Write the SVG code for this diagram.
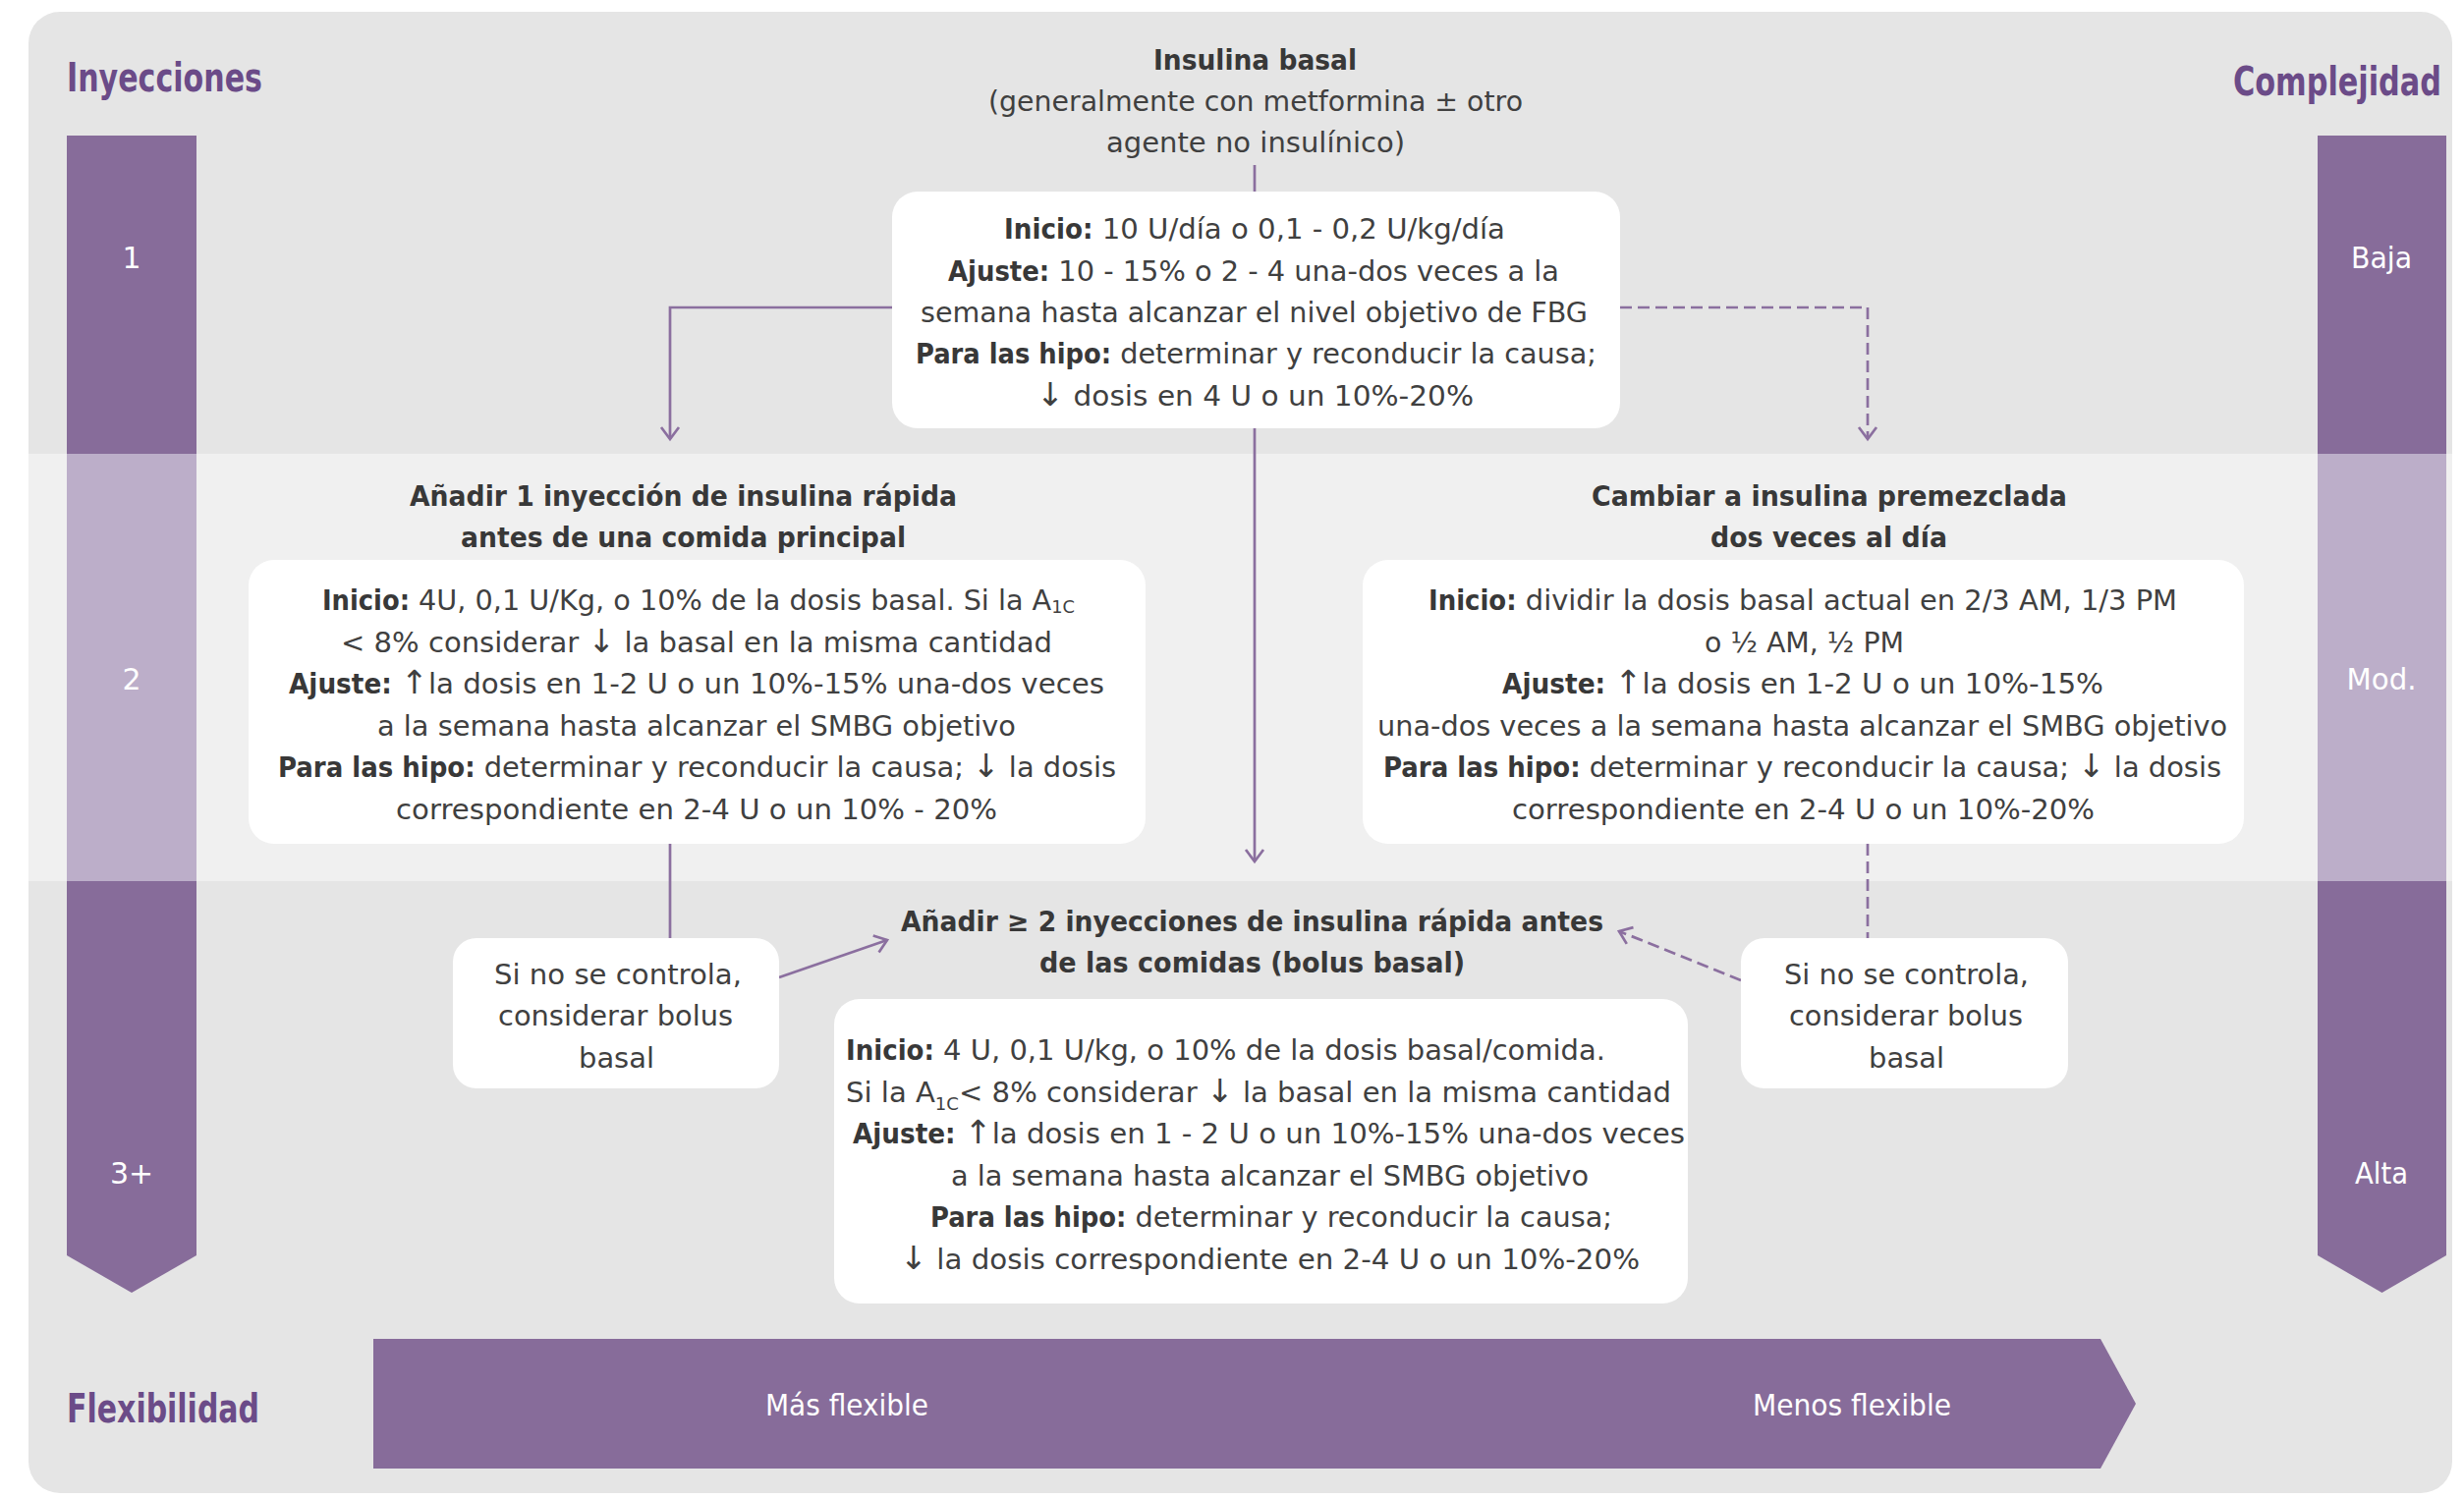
<svg xmlns="http://www.w3.org/2000/svg" width="2508" height="1525" viewBox="0 0 2508 1525">
<defs>
<style>
.bg{fill:#e5e5e5}
.band{fill:#f0f0f0}
.bar{fill:#876c9a}
.barl{fill:#bcaec9}
.box{fill:#ffffff}
text{font-family:"DejaVu Sans","Liberation Sans",sans-serif;font-size:29px;fill:#404040}
.b{font-family:"DejaVu Sans Condensed","DejaVu Sans",sans-serif;font-weight:bold;fill:#383838}
.hd{font-family:"DejaVu Sans Condensed","DejaVu Sans",sans-serif;font-weight:bold;font-size:40px;fill:#6b4b88}
.lbl{fill:#ffffff;font-size:30px;text-anchor:middle}
.flx{fill:#ffffff;font-size:30px}
.sub{font-size:18px}
.ar{font-size:33px}
.cn{fill:none;stroke:#8b6f9f;stroke-width:2.7}
.ds{stroke-dasharray:12 6}
</style>
<marker id="arr" viewBox="-15 -12 18 24" markerUnits="userSpaceOnUse" markerWidth="18" markerHeight="24" refX="0" refY="0" orient="auto" overflow="visible">
<path d="M-12,-9 L0,0 L-12,9" fill="none" stroke="#8b6f9f" stroke-width="2.7" stroke-dasharray="none"/>
</marker>
</defs>

<!-- background panel and the middle (2 injections) band -->
<g id="background">
<rect class="bg" x="29" y="12" width="2467" height="1508" rx="32"/>
<rect class="band" x="29" y="462" width="2467" height="435"/>
</g>

<!-- axis titles -->
<g id="axis-titles">
<text class="hd" x="68" y="93" textLength="199" lengthAdjust="spacingAndGlyphs">Inyecciones</text>
<text class="hd" x="2273" y="97" textLength="212" lengthAdjust="spacingAndGlyphs">Complejidad</text>
<text class="hd" x="68" y="1448" textLength="196" lengthAdjust="spacingAndGlyphs">Flexibilidad</text>
</g>

<!-- injections scale (left) -->
<g id="bar-injections">
<polygon class="bar" points="68,138 200,138 200,1278 134,1316 68,1278"/>
<rect class="barl" x="68" y="462" width="132" height="435"/>
<text class="lbl" x="134" y="273">1</text>
<text class="lbl" x="134" y="702">2</text>
<text class="lbl" x="134" y="1205">3+</text>
</g>

<!-- complexity scale (right) -->
<g id="bar-complexity">
<polygon class="bar" points="2359,138 2490,138 2490,1278 2424.5,1316 2359,1278"/>
<rect class="barl" x="2359" y="462" width="131" height="435"/>
<text class="lbl" x="2424" y="273" textLength="62" lengthAdjust="spacingAndGlyphs">Baja</text>
<text class="lbl" x="2424" y="702" textLength="71" lengthAdjust="spacingAndGlyphs">Mod.</text>
<text class="lbl" x="2424" y="1205" textLength="54" lengthAdjust="spacingAndGlyphs">Alta</text>
</g>

<!-- flexibility arrow (bottom) -->
<g id="bar-flexibility">
<polygon class="bar" points="380,1363 2138,1363 2174,1429 2138,1495 380,1495"/>
<text class="flx" x="779" y="1441" textLength="166" lengthAdjust="spacingAndGlyphs">Más flexible</text>
<text class="flx" x="1784" y="1441" textLength="202" lengthAdjust="spacingAndGlyphs">Menos flexible</text>
</g>

<!-- connectors -->
<g id="connectors">
<path class="cn" d="M1277,168 V195"/>
<path class="cn" d="M909,313 H682 V447" marker-end="url(#arr)"/>
<path class="cn ds" d="M1649,313 H1901 V447" marker-end="url(#arr)"/>
<path class="cn" d="M1277,436 V877" marker-end="url(#arr)"/>
<path class="cn" d="M682,859 V955"/>
<path class="cn" d="M793,995 L903,957" marker-end="url(#arr)"/>
<path class="cn ds" d="M1901,859 V955"/>
<path class="cn ds" d="M1772,998 L1648,948" marker-end="url(#arr)"/>
</g>

<!-- step 1: basal insulin -->
<g id="node-basal">
<text x="1174" y="71" class="b" textLength="207" lengthAdjust="spacingAndGlyphs">Insulina basal</text>
<text x="1006" y="113" textLength="544" lengthAdjust="spacingAndGlyphs">(generalmente con metformina ± otro</text>
<text x="1126" y="155" textLength="304" lengthAdjust="spacingAndGlyphs">agente no insulínico)</text>
<rect class="box" x="908" y="195" width="741" height="241" rx="26"/>
<text x="1022" y="243" textLength="510" lengthAdjust="spacingAndGlyphs"><tspan class="b">Inicio:</tspan> 10 U/día o 0,1 - 0,2 U/kg/día</text>
<text x="965" y="286" textLength="622" lengthAdjust="spacingAndGlyphs"><tspan class="b">Ajuste:</tspan> 10 - 15% o 2 - 4 una-dos veces a la</text>
<text x="937" y="328" textLength="679" lengthAdjust="spacingAndGlyphs">semana hasta alcanzar el nivel objetivo de FBG</text>
<text x="932" y="370" textLength="693" lengthAdjust="spacingAndGlyphs"><tspan class="b">Para las hipo:</tspan> determinar y reconducir la causa;</text>
<text x="1055" y="413" textLength="445" lengthAdjust="spacingAndGlyphs"><tspan class="ar">↓</tspan> dosis en 4 U o un 10%-20%</text>
</g>

<!-- step 2a: one prandial injection -->
<g id="node-prandial">
<text x="417" y="515" class="b" textLength="557" lengthAdjust="spacingAndGlyphs">Añadir 1 inyección de insulina rápida</text>
<text x="469" y="557" class="b" textLength="453" lengthAdjust="spacingAndGlyphs">antes de una comida principal</text>
<rect class="box" x="253" y="570" width="913" height="289" rx="26"/>
<text x="328" y="621" textLength="766" lengthAdjust="spacingAndGlyphs"><tspan class="b">Inicio:</tspan> 4U, 0,1 U/Kg, o 10% de la dosis basal. Si la A<tspan class="sub" dy="3">1C</tspan></text>
<text x="347" y="664" textLength="724" lengthAdjust="spacingAndGlyphs">&lt; 8% considerar <tspan class="ar">↓</tspan> la basal en la misma cantidad</text>
<text x="294" y="706" textLength="830" lengthAdjust="spacingAndGlyphs"><tspan class="b">Ajuste:</tspan> <tspan class="ar">↑</tspan>la dosis en 1-2 U o un 10%-15% una-dos veces</text>
<text x="384" y="749" textLength="650" lengthAdjust="spacingAndGlyphs">a la semana hasta alcanzar el SMBG objetivo</text>
<text x="283" y="791" textLength="853" lengthAdjust="spacingAndGlyphs"><tspan class="b">Para las hipo:</tspan> determinar y reconducir la causa; <tspan class="ar">↓</tspan> la dosis</text>
<text x="403" y="834" textLength="612" lengthAdjust="spacingAndGlyphs">correspondiente en 2-4 U o un 10% - 20%</text>
</g>

<!-- step 2b: premixed insulin twice a day -->
<g id="node-premix">
<text x="1620" y="515" class="b" textLength="484" lengthAdjust="spacingAndGlyphs">Cambiar a insulina premezclada</text>
<text x="1741" y="557" class="b" textLength="241" lengthAdjust="spacingAndGlyphs">dos veces al día</text>
<rect class="box" x="1387" y="570" width="897" height="289" rx="26"/>
<text x="1454" y="621" textLength="762" lengthAdjust="spacingAndGlyphs"><tspan class="b">Inicio:</tspan> dividir la dosis basal actual en 2/3 AM, 1/3 PM</text>
<text x="1735" y="664" textLength="203" lengthAdjust="spacingAndGlyphs">o ½ AM, ½ PM</text>
<text x="1529" y="706" textLength="612" lengthAdjust="spacingAndGlyphs"><tspan class="b">Ajuste:</tspan> <tspan class="ar">↑</tspan>la dosis en 1-2 U o un 10%-15%</text>
<text x="1402" y="749" textLength="865" lengthAdjust="spacingAndGlyphs">una-dos veces a la semana hasta alcanzar el SMBG objetivo</text>
<text x="1408" y="791" textLength="853" lengthAdjust="spacingAndGlyphs"><tspan class="b">Para las hipo:</tspan> determinar y reconducir la causa; <tspan class="ar">↓</tspan> la dosis</text>
<text x="1539" y="834" textLength="593" lengthAdjust="spacingAndGlyphs">correspondiente en 2-4 U o un 10%-20%</text>
</g>

<!-- fallback notes -->
<g id="node-note-left">
<rect class="box" x="461" y="955" width="332" height="153" rx="24"/>
<text x="503" y="1002" textLength="252" lengthAdjust="spacingAndGlyphs">Si no se controla,</text>
<text x="507" y="1044" textLength="239" lengthAdjust="spacingAndGlyphs">considerar bolus</text>
<text x="589" y="1087" textLength="77" lengthAdjust="spacingAndGlyphs">basal</text>
</g>
<g id="node-note-right">
<rect class="box" x="1772" y="955" width="333" height="153" rx="24"/>
<text x="1816" y="1002" textLength="249" lengthAdjust="spacingAndGlyphs">Si no se controla,</text>
<text x="1821" y="1044" textLength="238" lengthAdjust="spacingAndGlyphs">considerar bolus</text>
<text x="1902" y="1087" textLength="77" lengthAdjust="spacingAndGlyphs">basal</text>
</g>

<!-- step 3: basal-bolus -->
<g id="node-bolus">
<text x="917" y="948" class="b" textLength="715" lengthAdjust="spacingAndGlyphs">Añadir ≥ 2 inyecciones de insulina rápida antes</text>
<text x="1058" y="990" class="b" textLength="433" lengthAdjust="spacingAndGlyphs">de las comidas (bolus basal)</text>
<rect class="box" x="849" y="1017" width="869" height="310" rx="26"/>
<text x="861" y="1079" textLength="773" lengthAdjust="spacingAndGlyphs"><tspan class="b">Inicio:</tspan> 4 U, 0,1 U/kg, o 10% de la dosis basal/comida.</text>
<text x="861" y="1122" textLength="840" lengthAdjust="spacingAndGlyphs">Si la A<tspan class="sub" dy="8">1C</tspan><tspan dy="-8">&lt; 8% considerar </tspan><tspan class="ar">↓</tspan> la basal en la misma cantidad</text>
<text x="868" y="1164" textLength="847" lengthAdjust="spacingAndGlyphs"><tspan class="b">Ajuste:</tspan> <tspan class="ar">↑</tspan>la dosis en 1 - 2 U o un 10%-15% una-dos veces</text>
<text x="968" y="1207" textLength="649" lengthAdjust="spacingAndGlyphs">a la semana hasta alcanzar el SMBG objetivo</text>
<text x="947" y="1249" textLength="694" lengthAdjust="spacingAndGlyphs"><tspan class="b">Para las hipo:</tspan> determinar y reconducir la causa;</text>
<text x="916" y="1292" textLength="753" lengthAdjust="spacingAndGlyphs"><tspan class="ar">↓</tspan> la dosis correspondiente en 2-4 U o un 10%-20%</text>
</g>
</svg>
